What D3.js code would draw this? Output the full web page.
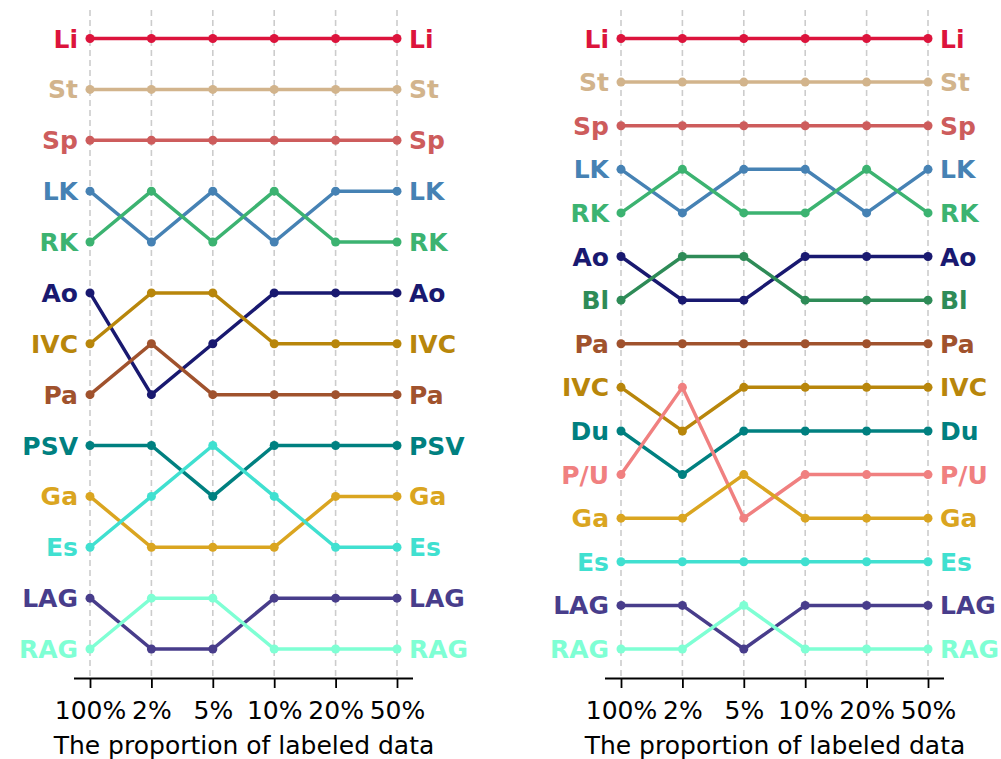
<!DOCTYPE html>
<html><head>
<script src="https://d3js.org/d3.v7.min.js"></script>
<style>
  body { margin: 0; background: #fff; font-family: "DejaVu Sans", sans-serif; }
</style>
</head>
<body>
<div id="viz"></div>
<script>
// x categories shared by both panels
const props = ["100%", "2%", "5%", "10%", "20%", "50%"];

// left panel: rank (0 = top) of each organ at each proportion
const leftNames  = ["Li", "St", "Sp", "LK", "RK", "Ao", "IVC", "Pa", "PSV", "Ga", "Es", "LAG", "RAG"];
const leftColors = ["#dc143c", "#d2b48c", "#cd5c5c", "#4682b4", "#3cb371", "#191970", "#b8860b", "#a0522d", "#008080", "#daa520", "#40e0d0", "#483d8b", "#7fffd4"];
const leftRanks = [
  [0, 0, 0, 0, 0, 0],
  [1, 1, 1, 1, 1, 1],
  [2, 2, 2, 2, 2, 2],
  [3, 4, 3, 4, 3, 3],
  [4, 3, 4, 3, 4, 4],
  [5, 7, 6, 5, 5, 5],
  [6, 5, 5, 6, 6, 6],
  [7, 6, 7, 7, 7, 7],
  [8, 8, 9, 8, 8, 8],
  [9, 10, 10, 10, 9, 9],
  [10, 9, 8, 9, 10, 10],
  [11, 12, 12, 11, 11, 11],
  [12, 11, 11, 12, 12, 12]
];

// right panel
const rightNames  = ["Li", "St", "Sp", "LK", "RK", "Ao", "Bl", "Pa", "IVC", "Du", "P/U", "Ga", "Es", "LAG", "RAG"];
const rightColors = ["#dc143c", "#d2b48c", "#cd5c5c", "#4682b4", "#3cb371", "#191970", "#2e8b57", "#a0522d", "#b8860b", "#008080", "#f08080", "#daa520", "#40e0d0", "#483d8b", "#7fffd4"];
const rightRanks = [
  [0, 0, 0, 0, 0, 0],
  [1, 1, 1, 1, 1, 1],
  [2, 2, 2, 2, 2, 2],
  [3, 4, 3, 3, 4, 3],
  [4, 3, 4, 4, 3, 4],
  [5, 6, 6, 5, 5, 5],
  [6, 5, 5, 6, 6, 6],
  [7, 7, 7, 7, 7, 7],
  [8, 9, 8, 8, 8, 8],
  [9, 10, 9, 9, 9, 9],
  [10, 8, 11, 10, 10, 10],
  [11, 11, 10, 11, 11, 11],
  [12, 12, 12, 12, 12, 12],
  [13, 13, 14, 13, 13, 13],
  [14, 14, 13, 14, 14, 14]
];

const svg = d3.select("#viz").append("svg")
  .attr("width", 1001).attr("height", 759);

function panel(left, names, colors, ranks) {
  const axisY = 678, top = 10;
  const x = d3.scalePoint().domain(props).range([left + 16, left + 323]);
  const y = d3.scaleLinear().domain([0, names.length - 1]).range([38.5, 649]);
  const g = svg.append("g");

  // dashed vertical grid
  g.selectAll(".grid").data(props).enter().append("line")
    .attr("x1", d => x(d)).attr("x2", d => x(d))
    .attr("y1", top).attr("y2", axisY)
    .attr("stroke", "#cccccc").attr("stroke-width", 1.6)
    .attr("stroke-dasharray", "6,4");

  // x axis
  const ax = g.append("g")
    .attr("transform", `translate(0,${axisY})`)
    .call(d3.axisBottom(x).tickSizeOuter(0).tickSizeInner(10).tickPadding(13));
  ax.select(".domain").attr("d", `M${left},0.5H${left + 339}`)
    .attr("stroke", "#000").attr("stroke-width", 1.8);
  ax.selectAll(".tick line").attr("stroke", "#000").attr("stroke-width", 1.8);
  ax.selectAll(".tick text")
    .style("font-family", "DejaVu Sans").style("font-size", "25px").attr("fill", "#000");

  g.append("text")
    .attr("x", left + 170).attr("y", 754)
    .attr("text-anchor", "middle")
    .style("font-family", "DejaVu Sans").style("font-size", "25px")
    .text("The proportion of labeled data");

  const line = d3.line().x((d, i) => x(props[i])).y(d => y(d));

  names.forEach((name, k) => {
    const r = ranks[k];
    g.append("path").datum(r)
      .attr("d", line).attr("fill", "none")
      .attr("stroke", colors[k]).attr("stroke-width", 3.5);
    g.selectAll(null).data(r).enter().append("circle")
      .attr("cx", (d, i) => x(props[i])).attr("cy", d => y(d))
      .attr("r", 4.5).attr("fill", colors[k]);
    g.append("text")
      .attr("x", x(props[0]) - 12).attr("y", y(r[0])).attr("dy", "0.36em")
      .attr("text-anchor", "end")
      .style("font-family", "DejaVu Sans").style("font-weight", "bold").style("font-size", "25px")
      .attr("fill", colors[k]).text(name);
    g.append("text")
      .attr("x", x(props[5]) + 12).attr("y", y(r[5])).attr("dy", "0.36em")
      .attr("text-anchor", "start")
      .style("font-family", "DejaVu Sans").style("font-weight", "bold").style("font-size", "25px")
      .attr("fill", colors[k]).text(name);
  });
}

panel(74, leftNames, leftColors, leftRanks);
panel(605, rightNames, rightColors, rightRanks);
</script>
</body></html>
